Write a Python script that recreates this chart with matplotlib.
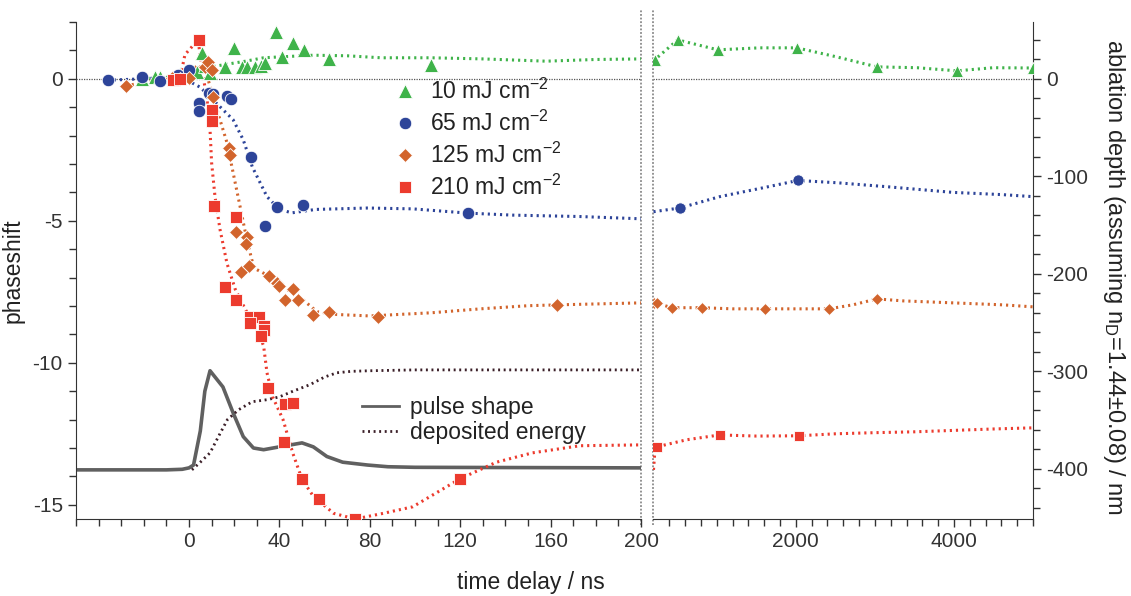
import matplotlib
matplotlib.use("Agg")
import matplotlib.pyplot as plt
from matplotlib.ticker import MultipleLocator, FixedLocator, NullFormatter

plt.rcParams['font.family'] = ['Liberation Sans', 'DejaVu Sans']
plt.rcParams['mathtext.default'] = 'regular'
plt.rcParams['axes.unicode_minus'] = False

# ---- data (time in ns, phaseshift in rad units of the left axis) ----
# 10 mJ cm-2
g_t = [-21, -15, -13, -4, -1, 3.5, 5.8, 7, 9.3, 16, 20, 23.5, 25.6, 29, 32, 33.6, 38.5, 41, 46, 51, 62, 107]
g_y = [0.0, 0.07, 0.05, 0.17, 0.25, 0.25, 0.9, 0.45, 0.2, 0.4, 1.1, 0.4, 0.4, 0.4, 0.45, 0.55, 1.65, 0.75, 1.27, 1.0, 0.7, 0.5]
g_fit_t = [-21, -10, -5, 0, 5, 10, 15, 25, 33, 40, 55, 70, 85, 107, 130, 158, 180, 200]
g_fit_y = [0.0, 0.05, 0.1, 0.2, 0.35, 0.42, 0.49, 0.62, 0.74, 0.77, 0.83, 0.81, 0.74, 0.74, 0.7, 0.62, 0.68, 0.7]
g_t2 = [215, 506, 1013, 2013, 3025, 4038, 5000]
g_y2 = [0.67, 1.37, 1.02, 1.09, 0.42, 0.28, 0.38]
g_fit_t2 = [200, 215, 506, 1013, 1544, 2013, 2519, 3025, 3532, 4038, 4494, 5000]
g_fit_y2 = [0.62, 0.67, 1.37, 1.02, 1.09, 1.09, 0.77, 0.42, 0.39, 0.28, 0.39, 0.38]

# 65 mJ cm-2
b_t = [-36, -21, -13, -5, 0, 4.5, 4.5, 9, 10.8, 16.7, 18.5, 27.4, 33.6, 38.8, 50.4, 123.5]
b_y = [-0.06, 0.07, -0.07, 0.14, 0.3, -0.85, -1.15, -0.5, -0.53, -0.6, -0.7, -2.75, -5.2, -4.5, -4.44, -4.73]
b_fit_t = [-36, -20, -10, -1, 5, 12, 19.5, 24, 28, 34.5, 40, 45.5, 56, 79, 99, 123.5, 143, 173, 200]
b_fit_y = [-0.05, 0.0, 0.05, -0.04, -0.3, -0.85, -1.44, -2.15, -3.1, -4.15, -4.6, -4.72, -4.6, -4.55, -4.58, -4.73, -4.8, -4.85, -4.93]
b_t2 = [532, 2025]
b_y2 = [-4.55, -3.58]
b_fit_t2 = [200, 532, 1038, 1582, 2025, 2519, 3152, 3988, 4620, 5000]
b_fit_y2 = [-4.68, -4.55, -4.15, -3.84, -3.58, -3.66, -3.8, -4.0, -4.08, -4.15]

# 125 mJ cm-2
o_t = [-28, -7.5, -4, 0, 7, 8.4, 10, 10.8, 17.5, 18, 21, 25.6, 25, 23, 26.5, 35.4, 39, 40, 46, 42.5, 48, 55, 62, 83.8, 163]
o_y = [-0.25, 0.03, 0.0, 0.03, 0.4, 0.6, 0.3, -0.65, -2.45, -2.7, -5.4, -5.57, -5.8, -6.8, -6.6, -6.94, -7.2, -7.3, -7.4, -7.8, -7.8, -8.3, -8.2, -8.38, -7.96]
o_fit_t = [-28, -15, -5, 0, 4, 8, 10.6, 13.7, 16.8, 19.5, 22.6, 25.6, 28.5, 30, 36, 41.6, 50.4, 56.6, 65.5, 80, 107, 129, 150, 163, 200]
o_fit_y = [-0.25, -0.05, 0.05, 0.15, 0.5, 0.1, -0.63, -1.44, -2.25, -3.3, -4.5, -5.67, -6.6, -6.72, -6.97, -7.32, -7.78, -8.2, -8.3, -8.35, -8.24, -8.1, -7.99, -7.96, -7.89]
o_t2 = [205, 240, 430, 810, 1608, 2418, 3025]
o_y2 = [-7.9, -7.9, -8.06, -8.06, -8.1, -8.1, -7.75]
o_fit_t2 = [200, 240, 430, 810, 1200, 1608, 2000, 2418, 2720, 3025, 3355, 3990, 4620, 5000]
o_fit_y2 = [-7.9, -7.9, -8.06, -8.06, -8.1, -8.1, -8.1, -8.1, -7.96, -7.75, -7.82, -7.89, -7.96, -8.03]

# 210 mJ cm-2
r_t = [-7, -4, 4.4, 10, 10, 11, 16, 21, 21, 27, 31, 27, 33, 33, 32, 35, 42.5, 46, 42, 50, 57.5, 73.5, 120]
r_y = [-0.05, 0.0, 1.37, -1.1, -1.48, -4.47, -7.33, -4.87, -7.8, -8.38, -8.4, -8.6, -8.7, -8.84, -9.05, -10.9, -11.44, -11.4, -12.8, -14.1, -14.8, -15.5, -14.08]
r_fit_t = [-8, -4, -1.8, 4, 6, 8, 9.3, 10, 11.5, 13.7, 16.8, 20.4, 24.8, 30, 33, 34.5, 37, 41.6, 46, 50, 55, 64, 73.5, 86, 99, 120, 136, 152, 173, 200]
r_fit_y = [-0.1, 0.0, 0.85, 1.37, 0.2, -0.74, -1.8, -2.96, -4.15, -5.3, -6.5, -7.4, -8.1, -8.84, -9.4, -10.35, -11.2, -12.0, -13.2, -14.1, -14.7, -15.3, -15.5, -15.3, -15.07, -14.08, -13.5, -13.17, -12.92, -12.89]
r_t2 = [240, 1038, 2038]
r_y2 = [-12.96, -12.54, -12.57]
r_fit_t2 = [200, 215, 240, 620, 1038, 1500, 2038, 2500, 3000, 3500, 4000, 4500, 5000]
r_fit_y2 = [-13.77, -13.2, -12.96, -12.71, -12.54, -12.58, -12.57, -12.5, -12.46, -12.43, -12.38, -12.33, -12.29]

# laser pulse shape and deposited energy (arbitrary, drawn in the same frame)
pulse_t = [-50, -10, -3, 0, 2, 5, 7, 9.3, 12, 15, 19.5, 24, 28.5, 33, 40, 50, 55, 61, 68, 79, 88, 100, 200]
pulse_y = [-13.77, -13.77, -13.75, -13.7, -13.6, -12.4, -11.0, -10.28, -10.55, -10.85, -11.76, -12.6, -13.0, -13.06, -12.96, -12.82, -12.96, -13.3, -13.5, -13.6, -13.66, -13.68, -13.7]
dep_t = [1.3, 5, 9.3, 13, 17, 22, 28, 34.5, 40, 46, 53.5, 60, 65.5, 72, 80, 100, 150, 200]
dep_y = [-13.77, -13.5, -13.17, -12.6, -12.0, -11.65, -11.37, -11.3, -11.2, -11.0, -10.77, -10.5, -10.35, -10.3, -10.28, -10.25, -10.25, -10.25]

labels = ['10 mJ cm$^{-2}$', '65 mJ cm$^{-2}$', '125 mJ cm$^{-2}$', '210 mJ cm$^{-2}$']
nm_ticks = [-400, -300, -200, -100, 0]
nm_per_phase = 29.13

GREEN = '#3fb34a'
BLUE = '#2d4499'
ORANGE = '#d2642c'
RED = '#ec3b2e'
AXC = '#333333'
dots = (0, (0.7, 1.3))

fig = plt.figure(figsize=(11.31, 5.96), dpi=100)
al = fig.add_axes([0.0672, 0.1292, 0.4996, 0.8339])
ar = fig.add_axes([0.5778, 0.1292, 0.3356, 0.8339])

series = [
    (g_t, g_y, g_fit_t, g_fit_y, g_t2, g_y2, g_fit_t2, g_fit_y2, GREEN, '^', 10),
    (b_t, b_y, b_fit_t, b_fit_y, b_t2, b_y2, b_fit_t2, b_fit_y2, BLUE, 'o', 9),
    (o_t, o_y, o_fit_t, o_fit_y, o_t2, o_y2, o_fit_t2, o_fit_y2, ORANGE, 'D', 7),
    (r_t, r_y, r_fit_t, r_fit_y, r_t2, r_y2, r_fit_t2, r_fit_y2, RED, 's', 8.5),
]

for ax in (al, ar):
    ax.axhline(0, color='#555555', lw=0.9, ls=(0, (1, 1)), zorder=1)
    ax.axvline(200, ymin=-0.012, ymax=1.025, clip_on=False, color='#8a8a8a', lw=1.3, ls=(0, (1, 1)), zorder=1)

al.plot(pulse_t, pulse_y, color='#606060', lw=2.6, zorder=2)
al.plot(dep_t, dep_y, color='#3b1f28', lw=2.0, ls=dots, zorder=2)

handles = []
for t, y, ft, fy, t2, y2, ft2, fy2, c, m, ms in series:
    al.plot(ft, fy, color=c, lw=2.2, ls=dots, zorder=3)
    h, = al.plot(t, y, ls='none', marker=m, ms=ms, color=c, mec='white', mew=0.6, zorder=4)
    ar.plot(ft2, fy2, color=c, lw=2.2, ls=dots, zorder=3)
    ar.plot(t2, y2, ls='none', marker=m, ms=ms * 0.9, color=c, mec='white', mew=0.6, zorder=4)
    handles.append(h)

for ax in (al, ar):
    ax.set_ylim(-15.5, 2.0)
    ax.spines['top'].set_visible(False)
    ax.tick_params(which='both', direction='out', colors=AXC, labelsize=15, width=1)
    ax.tick_params(which='major', length=6)
    ax.tick_params(which='minor', length=5)

al.set_xlim(-50, 200)
al.spines['right'].set_visible(False)
al.xaxis.set_minor_locator(MultipleLocator(10))
al.set_xticks([0, 40, 80, 120, 160, 200])
al.yaxis.set_major_locator(MultipleLocator(5))
al.yaxis.set_minor_locator(MultipleLocator(1))
al.set_ylabel('phaseshift', fontsize=16.5, color='#222222', labelpad=6)

ar.set_xlim(200, 5000)
ar.spines['left'].set_visible(False)
ar.spines['right'].set_visible(False)
ar.yaxis.set_visible(False)
ar.xaxis.set_major_locator(FixedLocator([2000, 4000]))
ar.xaxis.set_minor_locator(FixedLocator(list(range(400, 5001, 200))))
ar.xaxis.set_minor_formatter(NullFormatter())

sec = ar.secondary_yaxis('right', functions=(lambda p: p * nm_per_phase, lambda n: n / nm_per_phase))
sec.yaxis.set_major_locator(FixedLocator(nm_ticks))
sec.yaxis.set_minor_locator(FixedLocator(list(range(-440, 41, 20))))
sec.tick_params(which='both', direction='out', colors=AXC, labelsize=15, width=1)
sec.tick_params(which='major', length=6)
sec.tick_params(which='minor', length=5)
sec.spines['right'].set_color(AXC)

for ax in (al, ar):
    for s in ('left', 'bottom'):
        ax.spines[s].set_color(AXC)

leg1 = al.legend(handles, labels, loc='upper left', bbox_to_anchor=(0.545, 0.905), frameon=False,
                 fontsize=16.5, handlelength=1.0, handletextpad=0.6, labelspacing=0.3, borderaxespad=0)
for txt in leg1.get_texts():
    txt.set_color('#222222')
al.add_artist(leg1)

h_pulse, = al.plot([], [], color='#606060', lw=2.0)
h_dep, = al.plot([], [], color='#3b1f28', lw=2.0, ls=dots)
leg2 = al.legend([h_pulse, h_dep], ['pulse shape', 'deposited energy'], loc='upper left',
                 bbox_to_anchor=(0.49, 0.265), frameon=False, fontsize=16.5, handlelength=1.6,
                 handletextpad=0.5, labelspacing=0.05, borderaxespad=0)
for txt in leg2.get_texts():
    txt.set_color('#222222')

fig.text(0.469, 0.022, 'time delay / ns', fontsize=16.5, color='#222222', ha='center', va='center')
fig.text(0.985, 0.535, 'ablation depth (assuming n$_D$=1.44±0.08) / nm', fontsize=17, color='#222222',
         rotation=270, ha='center', va='center')

fig.savefig('out.png', dpi=100)
